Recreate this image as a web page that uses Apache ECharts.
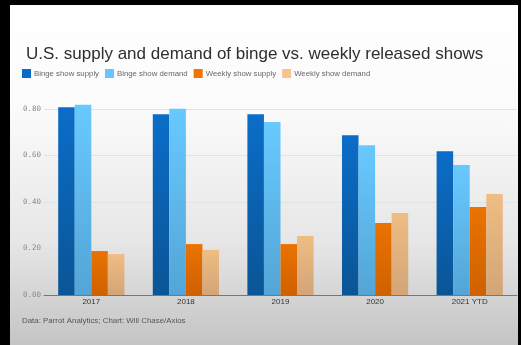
<!DOCTYPE html>
<html><head><meta charset="utf-8">
<script src="https://cdn.jsdelivr.net/npm/echarts@6/dist/echarts.min.js"></script>
<style>
html,body{margin:0;padding:0;background:#000;width:521px;height:345px;overflow:hidden}
#panel{position:absolute;left:10px;top:5px;width:508px;height:340px;background:linear-gradient(to bottom,#ffffff 0%,#fbfbfb 30%,#e6e6e6 70%,#c4c4c4 100%)}
#c{position:absolute;left:0;top:0;width:521px;height:345px}
</style></head>
<body><div id="panel"></div><div id="c"></div>
<script>
var categories = ["2017", "2018", "2019", "2020", "2021 YTD"];
var bingeSupply = [0.807, 0.777, 0.777, 0.687, 0.618];
var bingeDemand = [0.818, 0.801, 0.744, 0.644, 0.559];
var weeklySupply = [0.189, 0.219, 0.219, 0.310, 0.378];
var weeklyDemand = [0.176, 0.194, 0.254, 0.353, 0.434];
var seriesNames = ["Binge show supply", "Binge show demand", "Weekly show supply", "Weekly show demand"];
var yTicks = [0, 0.2, 0.4, 0.6, 0.8];

function grad(top, bottom){
  return new echarts.graphic.LinearGradient(0,0,0,1,[{offset:0,color:top},{offset:1,color:bottom}]);
}
var legendColors = ["#0a6cc6", "#66c6ff", "#f07400", "#f6c48c"];
var barColors = [grad("#0b6dc8","#0a5596"), grad("#68c9ff","#53a5d6"), grad("#ea7300","#cf6100"), grad("#efbd84","#d3a577")];
var values = [bingeSupply, bingeDemand, weeklySupply, weeklyDemand];

var chart = echarts.init(document.getElementById('c'), null, {renderer:'canvas'});
chart.setOption({
  backgroundColor: 'transparent',
  animation: false,
  title: {
    text: "U.S. supply and demand of binge vs. weekly released shows",
    left: 21, top: 41,
    textStyle: {fontFamily: "Liberation Sans", fontSize: 17, fontWeight: 'normal', color: '#2e2e2e'}
  },
  legend: {
    left: 17, top: 64, itemWidth: 9, itemHeight: 9, itemGap: 6,
    icon: 'rect',
    textStyle: {fontFamily: "Liberation Sans", fontSize: 7.8, color: '#666', padding:[0,0,0,-2]},
    data: seriesNames.map(function(n,i){return {name:n, itemStyle:{color:legendColors[i]}};})
  },
  graphic: [{
    type: 'text', left: 22, top: 317,
    style: {text: "Data: Parrot Analytics; Chart: Will Chase/Axios", fontFamily: "Liberation Sans", fontSize: 7.9, fill: '#555'}
  }],
  grid: {left: 44, right: 4, top: 109, bottom: 50},
  xAxis: {
    type: 'category', data: categories,
    axisLine: {lineStyle: {color: '#777', width: 1}},
    axisTick: {show: false},
    axisLabel: {fontFamily: "Liberation Sans", fontSize: 8, color: '#333', margin: 3}
  },
  yAxis: {
    type: 'value', min: 0, max: 0.8, interval: 0.2,
    axisLine: {show: false}, axisTick: {show: false},
    splitLine: {lineStyle: {color: '#e2e2e2'}},
    axisLabel: {fontFamily: "DejaVu Sans Mono", fontSize: 7.5, color: '#8a8a8a', margin: 3,
      formatter: function(v){ return v.toFixed(2); }}
  },
  series: values.map(function(vals, i){
    return {
      name: seriesNames[i], type: 'bar', data: vals, clip: false,
      barGap: '0%', barCategoryGap: '30%',
      itemStyle: {color: barColors[i]}
    };
  })
});
</script>
</body></html>
